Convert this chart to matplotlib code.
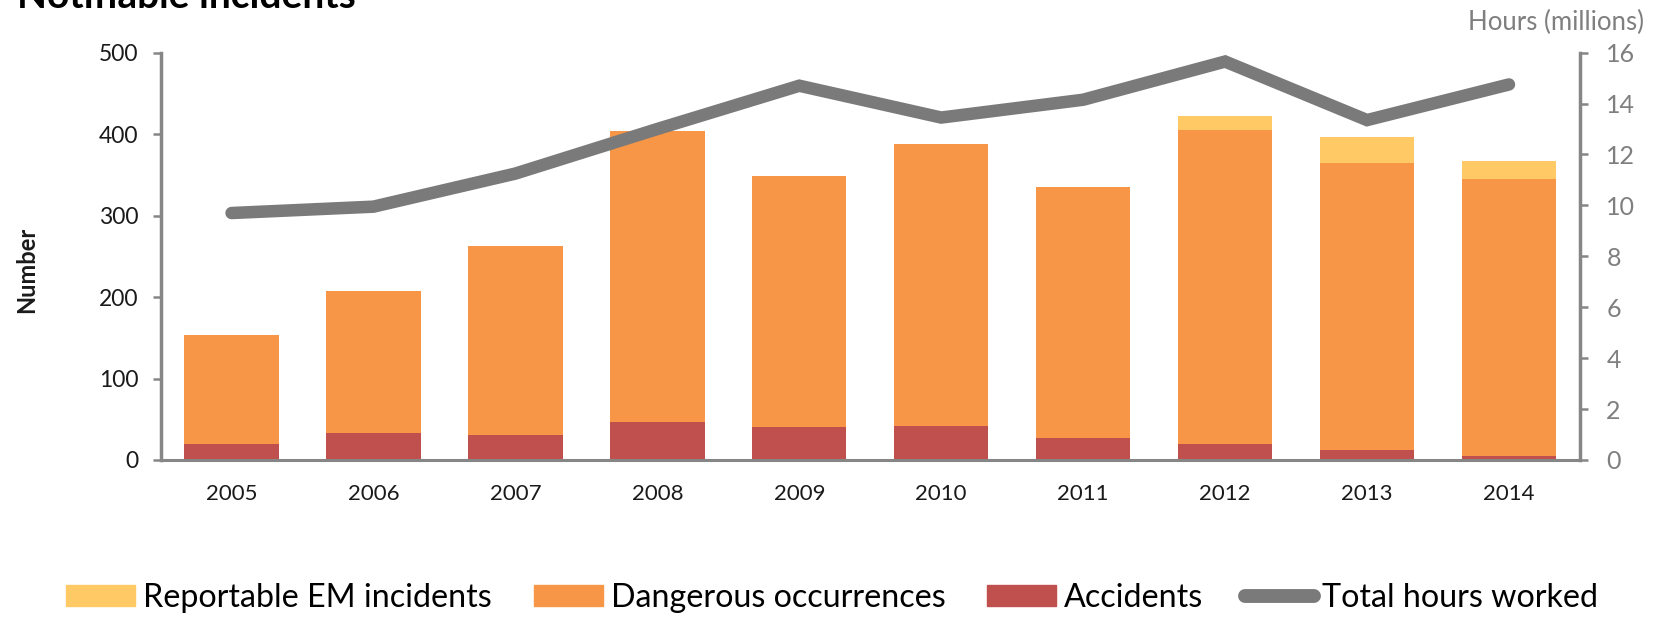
import numpy as np
import matplotlib
matplotlib.use('Agg')
import matplotlib.pyplot as plt
from matplotlib.patches import Patch
from matplotlib.lines import Line2D

plt.rcParams['font.family'] = ['Lato', 'DejaVu Sans']

# datos
years = ['2005', '2006', '2007', '2008', '2009', '2010', '2011', '2012', '2013', '2014']
accidents = [20, 33, 31, 46, 40, 42, 27, 20, 12, 5]
dangerous = [133, 174, 232, 358, 308, 346, 308, 385, 353, 340]
em_incidents = [0, 0, 0, 0, 0, 0, 0, 17, 32, 22]
hours = [9.7, 9.95, 11.25, 13.0, 14.7, 13.45, 14.15, 15.65, 13.35, 14.75]

c_em = '#FFC966'
c_dang = '#F79646'
c_acc = '#C0504D'
c_line = '#7a7a7a'
c_axis = '#868686'

fig = plt.figure(figsize=(16.57, 6.17), dpi=100)
ax = fig.add_axes([0.0969, 0.2545, 0.8566, 0.6602])
x = np.arange(len(years))
w = 0.665
acc = np.array(accidents)
dang = np.array(dangerous)
ax.bar(x, acc, w, color=c_acc)
ax.bar(x, dang, w, bottom=acc, color=c_dang)
ax.bar(x, em_incidents, w, bottom=acc + dang, color=c_em)

ax.set_xlim(-0.5, len(years) - 0.5)
ax.set_ylim(0, 500)
ax.set_yticks(range(0, 501, 100))
ax.set_xticks(x)
ax.set_xticklabels(years)
for s in ['top', 'right']:
    ax.spines[s].set_visible(False)
ax.spines['left'].set_color(c_axis)
ax.spines['left'].set_linewidth(2.5)
ax.spines['bottom'].set_color(c_axis)
ax.spines['bottom'].set_linewidth(2.2)
ax.tick_params(axis='y', length=6, width=1.8, color=c_axis, labelsize=16.5, pad=10, labelcolor='#1a1a1a')
ax.tick_params(axis='x', length=0, labelsize=16, pad=17, labelcolor='#1a1a1a')

ax2 = ax.twinx()
ax2.plot(x, hours, color=c_line, lw=9, solid_capstyle='round', solid_joinstyle='miter')
ax2.set_ylim(0, 16)
ax2.set_yticks(range(0, 17, 2))
for s in ['top', 'left', 'bottom']:
    ax2.spines[s].set_visible(False)
ax2.spines['right'].set_color(c_axis)
ax2.spines['right'].set_linewidth(2.5)
ax2.tick_params(axis='y', length=6, width=1.8, color=c_axis, labelsize=18, pad=13, labelcolor='#7f7f7f')

fig.text(27 / 1657, 1 - 270 / 617, 'Number', rotation=90, ha='center', va='center',
         fontsize=17, fontweight='bold', color='#1a1a1a')
fig.text(1644 / 1657, 1 - 30 / 617, 'Hours (millions)', ha='right', va='baseline',
         fontsize=18.5, color='#7f7f7f')
fig.text(17 / 1657, 1 - 8 / 617, 'Notifiable incidents', ha='left', va='baseline',
         fontsize=28, fontweight='bold', color='black')

handles = [Patch(color=c_em), Patch(color=c_dang), Patch(color=c_acc),
           Line2D([0], [0], color=c_line, lw=10, solid_capstyle='round')]
labels = ['Reportable EM incidents', 'Dangerous occurrences', 'Accidents', 'Total hours worked']
fig.legend(handles, labels, loc='center left', bbox_to_anchor=(66 / 1657, 19 / 617),
           ncol=4, frameon=False, fontsize=23.2, handlelength=2.14, handleheight=0.65,
           handletextpad=0.25, columnspacing=1.3, borderpad=0, borderaxespad=0)

fig.savefig('out.png', dpi=100)
